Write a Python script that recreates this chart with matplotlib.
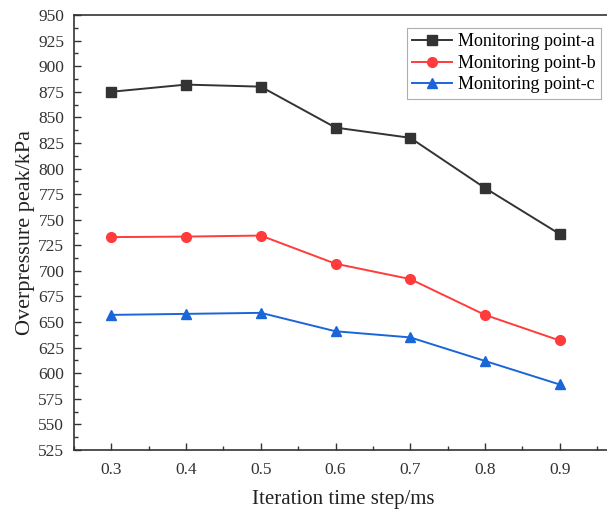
import matplotlib
matplotlib.use('Agg')
import matplotlib.pyplot as plt
from matplotlib.ticker import MultipleLocator

# valeurs
pas_temps = [0.3, 0.4, 0.5, 0.6, 0.7, 0.8, 0.9]
point_a = [875, 882, 880, 840, 830, 781, 736]
point_b = [733, 733.5, 734.5, 707, 692, 657, 632]
point_c = [657, 658, 659, 641, 635, 612, 589]
noms = ['Monitoring point-a', 'Monitoring point-b', 'Monitoring point-c']

plt.rcParams['font.family'] = ['Liberation Serif', 'DejaVu Serif']

fig = plt.figure(figsize=(6.07, 5.15), dpi=100)
ax = fig.add_axes([74 / 607, 1 - 450 / 515, (612 - 74) / 607, (450 - 15) / 515])

ax.plot(pas_temps, point_a, color='#333333', marker='s', markersize=6.5, lw=1.4, label=noms[0])
ax.plot(pas_temps, point_b, color='#ff3b3b', marker='o', markersize=7, lw=1.4, label=noms[1])
ax.plot(pas_temps, point_c, color='#1a66d9', marker='^', markersize=7.5, lw=1.4, label=noms[2])

ax.set_xlim(0.25, 0.97)
ax.set_ylim(525, 950)
ax.xaxis.set_minor_locator(MultipleLocator(0.05))
ax.yaxis.set_major_locator(MultipleLocator(25))
ax.yaxis.set_minor_locator(MultipleLocator(12.5))
ax.set_xticks(pas_temps)
ax.set_xticklabels(['0.3', '0.4', '0.5', '0.6', '0.7', '0.8', '0.9'])
ax.tick_params(which='major', direction='in', length=5, width=1, labelsize=12.5, colors='#333333', labelcolor='#333333')
ax.tick_params(which='minor', direction='in', length=3, width=1, colors='#333333')
ax.tick_params(axis='x', pad=9)
ax.tick_params(axis='y', pad=7)
for s in ax.spines.values():
    s.set_linewidth(1.2)
    s.set_color('#333333')

ax.set_xlabel('Iteration time step/ms', fontsize=15, color='#222222', labelpad=8)
ax.set_ylabel('Overpressure peak/kPa', fontsize=16, color='#222222', labelpad=2)

leg = ax.legend(loc='upper left', bbox_to_anchor=(333 / 538, 0.97), fontsize=13, frameon=True,
                fancybox=False, edgecolor='#999999', handlelength=2.2, handletextpad=0.3,
                borderpad=0.3, labelspacing=0.25, borderaxespad=0)
leg.get_frame().set_linewidth(0.8)

fig.savefig('out.png', dpi=100)
